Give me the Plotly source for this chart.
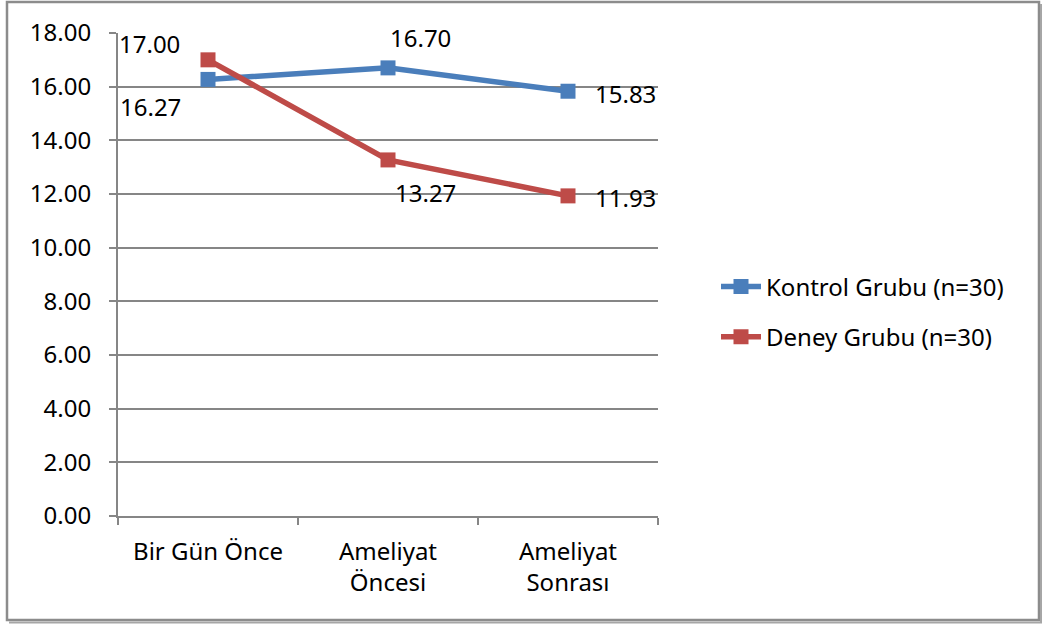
import plotly.graph_objects as go

categories = ["Bir Gün Önce", "Ameliyat<br>Öncesi", "Ameliyat<br>Sonrası"]
kontrol = [16.27, 16.70, 15.83]
deney = [17.00, 13.27, 11.93]
series_names = ["Kontrol Grubu (n=30)", "Deney Grubu (n=30)"]
y_ticks = [0, 2, 4, 6, 8, 10, 12, 14, 16, 18]

BLUE = "#4A7EBB"
RED = "#BE4B48"
FONT = "Noto Sans"
FS = 24
W, H = 1043, 625
L, R, T, B = 118, 385, 33, 109

fig = go.Figure()
for name, vals, col, grp in [(series_names[0], kontrol, BLUE, "a"), (series_names[1], deney, RED, "b")]:
    fig.add_trace(go.Scatter(
        x=categories, y=vals, name=name, mode="lines+markers",
        line=dict(color=col, width=5.5),
        marker=dict(symbol="square", size=15, color=col),
        legendgroup=grp,
    ))

# data labels with offsets (px) mirroring the reference
k_off = [(-58, -27), (32, 30), (57, -2)]
d_off = [(-59, 16), (37, -33), (57, -2)]
for vals, offs in [(kontrol, k_off), (deney, d_off)]:
    for c, v, (dx, dy) in zip(categories, vals, offs):
        fig.add_annotation(x=c, y=v, xref="x", yref="y", text=f"{v:.2f}",
                           showarrow=False, xshift=dx, yshift=dy,
                           font=dict(family=FONT, size=FS, color="#000000"))

pw = W - L - R
ph = H - T - B
def px2x(p):
    return (p - L) / pw
def py2y(p):
    return (H - B - p) / ph

# chart frame with slight shadow on right/bottom
fig.add_shape(type="rect", xref="paper", yref="paper",
              x0=px2x(7), x1=px2x(1039), y0=py2y(620), y1=py2y(2),
              line=dict(color="#8C8C8C", width=2.5), layer="below")
fig.add_shape(type="line", xref="paper", yref="paper",
              x0=px2x(1041), x1=px2x(1041), y0=py2y(623), y1=py2y(4),
              line=dict(color="#A6A6A6", width=2), layer="below")
fig.add_shape(type="line", xref="paper", yref="paper",
              x0=px2x(9), x1=px2x(1042), y0=py2y(622.5), y1=py2y(622.5),
              line=dict(color="#A6A6A6", width=2), layer="below")

fig.update_layout(
    width=W, height=H,
    margin=dict(l=L, r=R, t=T, b=B),
    paper_bgcolor="white", plot_bgcolor="white",
    font=dict(family=FONT, size=FS, color="#000000"),
    showlegend=True,
    legend=dict(x=px2x(716), y=py2y(312), xanchor="left", yanchor="middle",
                font=dict(family=FONT, size=FS), tracegroupgap=16,
                bgcolor="rgba(0,0,0,0)", itemwidth=40),
)
fig.update_xaxes(
    type="category", tickson="boundaries", ticks="outside", ticklen=7,
    tickcolor="#868686", tickwidth=2, showline=True, linecolor="#868686", linewidth=2,
    showgrid=False, tickfont=dict(family=FONT, size=FS), range=[-0.5, 2.5],
    ticklabelstandoff=13,
)
fig.update_yaxes(
    range=[0, 18], tickvals=y_ticks, tickformat=".2f", ticks="outside", ticklen=7,
    tickcolor="#868686", tickwidth=2, showline=True, linecolor="#868686", linewidth=2,
    showgrid=True, gridcolor="#868686", gridwidth=1.5, zeroline=False,
    tickfont=dict(family=FONT, size=FS), ticklabelstandoff=13,
)

fig.write_html("out.html")
